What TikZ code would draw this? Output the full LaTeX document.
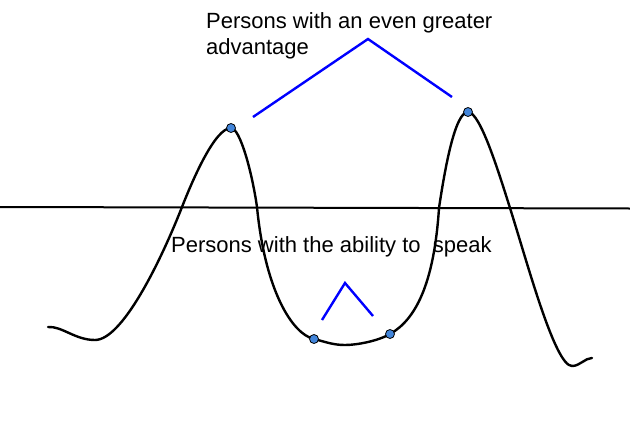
\documentclass[tikz,border=0pt]{standalone}
\usepackage{fontspec}
\setmainfont{Liberation Sans}
\usetikzlibrary{positioning}
\definecolor{dotblue}{RGB}{66,133,218}
\definecolor{lineblue}{RGB}{0,0,255}
\tikzset{
    wave/.style={line width=2.4pt, line join=round, line cap=round},
    level/.style={line width=2pt},
    caret/.style={lineblue, line width=2.4pt},
    marker/.style={circle, draw, line width=0.8pt, fill=dotblue, inner sep=0pt, minimum size=9pt},
    caption/.style={font=\fontsize{22}{26}\selectfont, align=left, inner sep=0pt}
}

\begin{document}
\begin{tikzpicture}[x=1pt, y=-1pt]
    \useasboundingbox (0,0) rectangle (630,426);

    % labels
    \node[caption, anchor=base west] (upper) at (206,54) {Persons with an even greater\\advantage};
    \node[caption, anchor=base west] (lower) at (171,252) {Persons with the ability to\ \ speak};

    % horizontal line
    \coordinate (west) at (0,207);
    \coordinate (east) at (630,208.5);
    \draw[level] (west) -- (east);

    % points on the wave
    \coordinate (lpeak) at (231,128);
    \coordinate (rpeak) at (468,112);
    \coordinate (lbot) at (314,339);
    \coordinate (rbot) at (390,334);

    \draw[wave] (48,327) .. controls (62,326) and (75,340) .. (95,340)
        .. controls (122,340) and (160,263) .. (182,207)
        .. controls (193,179) and (215,128) .. (lpeak)
        .. controls (240,128) and (252,172) .. (257,207)
        .. controls (265,290) and (292,334) .. (lbot)
        .. controls (326,342) and (333,345) .. (345,345)
        .. controls (357,345) and (378,341) .. (rbot)
        .. controls (415,320) and (434,285) .. (439,208)
        .. controls (445,168) and (455,112) .. (rpeak)
        .. controls (480,112) and (498,170) .. (510,208)
        .. controls (528,265) and (555,366) .. (572,366)
        .. controls (580,366) and (585,358) .. (592,358);

    \node[marker] (m1) at (lpeak) {};
    \node[marker] (m2) at (rpeak) {};
    \node[marker] (m3) at (lbot) {};
    \node[marker] (m4) at (rbot) {};

    % carets
    \coordinate (topl) at (253,117);
    \coordinate (topapex) at (368,39);
    \coordinate (topr) at (452,97);
    \draw[caret] (topl) -- (topapex) -- (topr);

    \coordinate (botl) at (322,320);
    \coordinate (botapex) at (345,283);
    \coordinate (botr) at (373,316);
    \draw[caret] (botl) -- (botapex) -- (botr);
\end{tikzpicture}
\end{document}
